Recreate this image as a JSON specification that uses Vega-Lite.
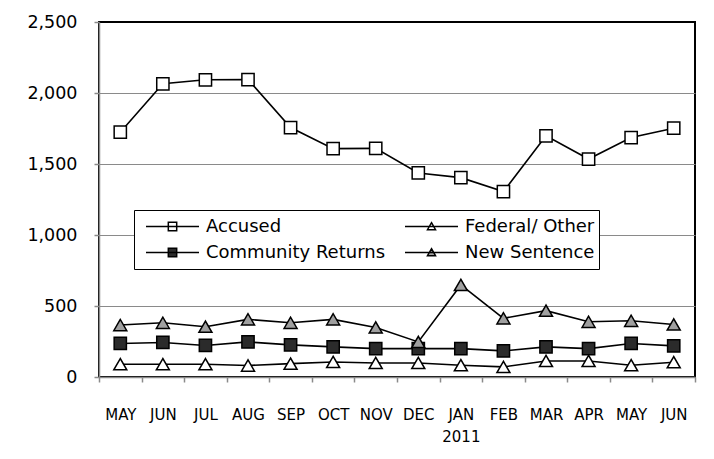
{
  "$schema": "https://vega.github.io/schema/vega-lite/v6.json",
  "width": 596,
  "height": 355,
  "autosize": "none",
  "padding": {"left": 99, "top": 22, "right": 19, "bottom": 82},
  "background": "white",
  "config": {
    "font": "DejaVu Sans",
    "view": {"stroke": "black", "strokeWidth": 2}
  },
  "data": {
    "values": [
      {"period": "MAY 2010", "series": "Accused", "value": 1724},
      {"period": "JUN 2010", "series": "Accused", "value": 2065},
      {"period": "JUL 2010", "series": "Accused", "value": 2093},
      {"period": "AUG 2010", "series": "Accused", "value": 2095},
      {"period": "SEP 2010", "series": "Accused", "value": 1757},
      {"period": "OCT 2010", "series": "Accused", "value": 1608},
      {"period": "NOV 2010", "series": "Accused", "value": 1610},
      {"period": "DEC 2010", "series": "Accused", "value": 1437},
      {"period": "JAN 2011", "series": "Accused", "value": 1404},
      {"period": "FEB 2011", "series": "Accused", "value": 1306},
      {"period": "MAR 2011", "series": "Accused", "value": 1698},
      {"period": "APR 2011", "series": "Accused", "value": 1535},
      {"period": "MAY 2011", "series": "Accused", "value": 1686},
      {"period": "JUN 2011", "series": "Accused", "value": 1752},
      {"period": "MAY 2010", "series": "Federal/ Other", "value": 90},
      {"period": "JUN 2010", "series": "Federal/ Other", "value": 90},
      {"period": "JUL 2010", "series": "Federal/ Other", "value": 90},
      {"period": "AUG 2010", "series": "Federal/ Other", "value": 81},
      {"period": "SEP 2010", "series": "Federal/ Other", "value": 94},
      {"period": "OCT 2010", "series": "Federal/ Other", "value": 106},
      {"period": "NOV 2010", "series": "Federal/ Other", "value": 99},
      {"period": "DEC 2010", "series": "Federal/ Other", "value": 99},
      {"period": "JAN 2011", "series": "Federal/ Other", "value": 83},
      {"period": "FEB 2011", "series": "Federal/ Other", "value": 71},
      {"period": "MAR 2011", "series": "Federal/ Other", "value": 113},
      {"period": "APR 2011", "series": "Federal/ Other", "value": 113},
      {"period": "MAY 2011", "series": "Federal/ Other", "value": 83},
      {"period": "JUN 2011", "series": "Federal/ Other", "value": 104},
      {"period": "MAY 2010", "series": "Community Returns", "value": 236},
      {"period": "JUN 2010", "series": "Community Returns", "value": 243},
      {"period": "JUL 2010", "series": "Community Returns", "value": 222},
      {"period": "AUG 2010", "series": "Community Returns", "value": 247},
      {"period": "SEP 2010", "series": "Community Returns", "value": 226},
      {"period": "OCT 2010", "series": "Community Returns", "value": 212},
      {"period": "NOV 2010", "series": "Community Returns", "value": 200},
      {"period": "DEC 2010", "series": "Community Returns", "value": 200},
      {"period": "JAN 2011", "series": "Community Returns", "value": 200},
      {"period": "FEB 2011", "series": "Community Returns", "value": 184},
      {"period": "MAR 2011", "series": "Community Returns", "value": 212},
      {"period": "APR 2011", "series": "Community Returns", "value": 200},
      {"period": "MAY 2011", "series": "Community Returns", "value": 236},
      {"period": "JUN 2011", "series": "Community Returns", "value": 219},
      {"period": "MAY 2010", "series": "New Sentence", "value": 366},
      {"period": "JUN 2010", "series": "New Sentence", "value": 382},
      {"period": "JUL 2010", "series": "New Sentence", "value": 354},
      {"period": "AUG 2010", "series": "New Sentence", "value": 406},
      {"period": "SEP 2010", "series": "New Sentence", "value": 382},
      {"period": "OCT 2010", "series": "New Sentence", "value": 406},
      {"period": "NOV 2010", "series": "New Sentence", "value": 349},
      {"period": "DEC 2010", "series": "New Sentence", "value": 247},
      {"period": "JAN 2011", "series": "New Sentence", "value": 648},
      {"period": "FEB 2011", "series": "New Sentence", "value": 413},
      {"period": "MAR 2011", "series": "New Sentence", "value": 467},
      {"period": "APR 2011", "series": "New Sentence", "value": 389},
      {"period": "MAY 2011", "series": "New Sentence", "value": 396},
      {"period": "JUN 2011", "series": "New Sentence", "value": 370}
    ]
  },
  "encoding": {
    "x": {
      "field": "period",
      "type": "ordinal",
      "sort": ["MAY 2010", "JUN 2010", "JUL 2010", "AUG 2010", "SEP 2010", "OCT 2010", "NOV 2010", "DEC 2010", "JAN 2011", "FEB 2011", "MAR 2011", "APR 2011", "MAY 2011", "JUN 2011"],
      "scale": {"paddingInner": 0, "paddingOuter": 0},
      "axis": {
        "title": null,
        "labelAngle": 0,
        "tickBand": "extent",
        "tickSize": 5,
        "tickWidth": 1.5,
        "tickColor": "#8a8a8a",
        "domainColor": "#8a8a8a",
        "domainWidth": 1.5,
        "labelPadding": 25,
        "labelFontSize": 15,
        "labelColor": "black",
        "labelLineHeight": 22,
        "labelExpr": "!isString(datum.value) ? '' : (datum.value === 'JAN 2011' ? ['JAN', '2011'] : split(datum.value, ' ')[0])"
      }
    },
    "y": {
      "field": "value",
      "type": "quantitative",
      "scale": {"domain": [0, 2500], "nice": false},
      "axis": {
        "title": null,
        "values": [0, 500, 1000, 1500, 2000, 2500],
        "format": ",.0f",
        "tickSize": 5,
        "tickWidth": 1.5,
        "tickColor": "#8a8a8a",
        "domainColor": "#8a8a8a",
        "domainWidth": 1.5,
        "labelPadding": 17,
        "labelFontSize": 17.5,
        "labelColor": "black",
        "gridWidth": 1.2,
        "gridColor": {"condition": {"test": "datum.value === 2500", "value": "black"}, "value": "#8a8a8a"}
      }
    }
  },
  "layer": [
    {
      "mark": {"type": "line", "stroke": "black", "strokeWidth": 1.6},
      "encoding": {"detail": {"field": "series"}}
    },
    {
      "transform": [{"filter": "datum.series === 'Accused' || datum.series === 'Community Returns'"}],
      "mark": {"type": "point", "shape": "square", "filled": true, "stroke": "black", "strokeWidth": 1.5, "opacity": 1, "size": 150},
      "encoding": {
        "fill": {
          "field": "series",
          "type": "nominal",
          "scale": {"domain": ["Accused", "Community Returns", "Federal/ Other", "New Sentence"], "range": ["white", "#2b2b2b", "white", "#a0a0a0"]},
          "legend": {
            "title": null,
            "orient": "none",
            "legendX": 35,
            "legendY": 188,
            "columns": 2,
            "gridAlign": "all",
            "fillColor": "white",
            "strokeColor": "black",
            "padding": 4,
            "clipHeight": 25,
            "rowPadding": 1,
            "columnPadding": 11,
            "symbolSize": 4489,
            "symbolStrokeColor": "black",
            "symbolStrokeWidth": 1.5,
            "symbolOpacity": 1,
            "labelFont": "DejaVu Sans",
            "labelFontSize": 18,
            "labelColor": "black",
            "labelOffset": -1,
            "labelLimit": 400
          }
        }
      }
    },
    {
      "transform": [{"filter": "datum.series === 'Federal/ Other' || datum.series === 'New Sentence'"}],
      "mark": {"type": "point", "shape": "triangle-up", "filled": true, "stroke": "black", "strokeWidth": 1.5, "opacity": 1, "size": 169},
      "encoding": {
        "fill": {"field": "series", "type": "nominal"}
      }
    },
    {
      "transform": [{"filter": "datum.value < 0"}],
      "mark": {"type": "point", "filled": true, "stroke": "black", "strokeWidth": 1.5, "opacity": 1},
      "encoding": {
        "shape": {
          "field": "series",
          "type": "nominal",
          "scale": {
            "domain": ["Accused", "Community Returns", "Federal/ Other", "New Sentence"],
            "range": [
              "M-1,0M-0.791,0H0.791M-0.125,-0.125H0.125V0.125H-0.125Z",
              "M-1,0M-0.791,0H0.791M-0.125,-0.125H0.125V0.125H-0.125Z",
              "M-1,0M-0.791,0H0.791M0,-0.115L0.12,0.095L-0.12,0.095Z",
              "M-1,0M-0.791,0H0.791M0,-0.115L0.12,0.095L-0.12,0.095Z"
            ]
          }
        }
      }
    }
  ]
}
